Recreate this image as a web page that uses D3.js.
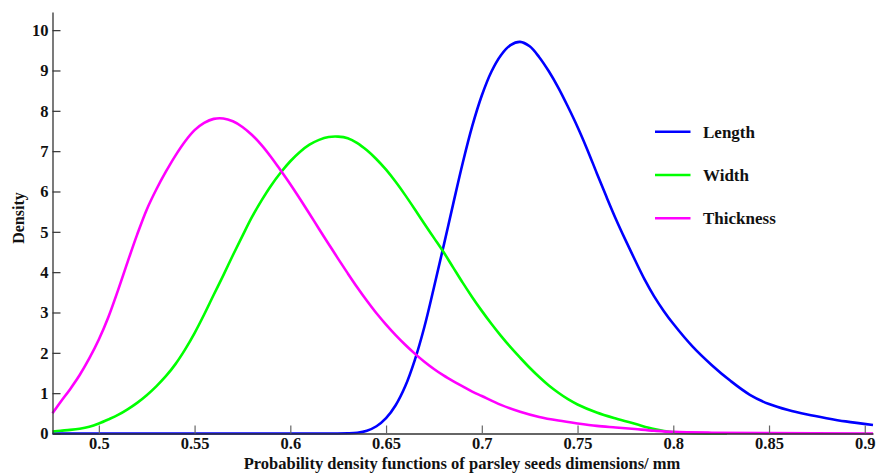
<!DOCTYPE html>
<html>
<head>
<meta charset="utf-8">
<script src="https://cdn.jsdelivr.net/npm/d3@7"></script>
<style>
  body { margin: 0; background: #fff; }
  text { font-family: "Liberation Serif", "Times New Roman", serif; font-weight: bold; fill: #111; }
</style>
</head>
<body>
<div id="chart"></div>
<script>
// values (mm, density)
var lengthX = [0.4758, 0.600, 0.630, 0.635, 0.640, 0.645, 0.650, 0.655, 0.660, 0.665, 0.670, 0.675, 0.680, 0.685, 0.690, 0.695, 0.700, 0.705, 0.710, 0.715, 0.720, 0.725, 0.730, 0.735, 0.740, 0.745, 0.750, 0.755, 0.760, 0.765, 0.770, 0.775, 0.780, 0.785, 0.790, 0.795, 0.800, 0.810, 0.820, 0.830, 0.840, 0.850, 0.860, 0.870, 0.880, 0.890, 0.9043];
var lengthY = [0, 0, 0.005, 0.02, 0.07, 0.18, 0.38, 0.70, 1.17, 1.82, 2.64, 3.62, 4.64, 5.68, 6.70, 7.62, 8.38, 8.97, 9.38, 9.63, 9.71, 9.60, 9.33, 8.98, 8.57, 8.10, 7.60, 7.05, 6.46, 5.88, 5.32, 4.80, 4.30, 3.82, 3.40, 3.04, 2.72, 2.16, 1.70, 1.30, 0.96, 0.73, 0.58, 0.47, 0.38, 0.30, 0.21];

var widthX = [0.4758, 0.480, 0.485, 0.490, 0.495, 0.500, 0.505, 0.510, 0.515, 0.520, 0.525, 0.530, 0.535, 0.540, 0.545, 0.550, 0.555, 0.560, 0.565, 0.570, 0.575, 0.580, 0.585, 0.590, 0.595, 0.600, 0.605, 0.610, 0.615, 0.620, 0.625, 0.630, 0.635, 0.640, 0.645, 0.650, 0.655, 0.660, 0.665, 0.670, 0.675, 0.680, 0.685, 0.690, 0.695, 0.700, 0.705, 0.710, 0.715, 0.720, 0.725, 0.730, 0.735, 0.740, 0.745, 0.750, 0.760, 0.770, 0.780, 0.790, 0.800, 0.810, 0.828];
var widthY = [0.05, 0.07, 0.09, 0.12, 0.17, 0.25, 0.35, 0.46, 0.60, 0.76, 0.95, 1.17, 1.42, 1.72, 2.08, 2.49, 2.95, 3.44, 3.92, 4.42, 4.90, 5.37, 5.78, 6.15, 6.47, 6.75, 6.98, 7.16, 7.28, 7.35, 7.36, 7.32, 7.20, 7.02, 6.80, 6.54, 6.24, 5.91, 5.56, 5.20, 4.85, 4.50, 4.12, 3.74, 3.38, 3.04, 2.72, 2.42, 2.14, 1.88, 1.63, 1.40, 1.19, 1.01, 0.85, 0.72, 0.52, 0.37, 0.24, 0.11, 0.03, 0.01, 0];

var thickX = [0.4758, 0.480, 0.485, 0.490, 0.495, 0.500, 0.505, 0.510, 0.515, 0.520, 0.525, 0.530, 0.535, 0.540, 0.545, 0.550, 0.555, 0.560, 0.565, 0.570, 0.575, 0.580, 0.585, 0.590, 0.595, 0.600, 0.605, 0.610, 0.615, 0.620, 0.625, 0.630, 0.635, 0.640, 0.645, 0.650, 0.655, 0.660, 0.665, 0.670, 0.675, 0.680, 0.685, 0.690, 0.695, 0.700, 0.710, 0.720, 0.730, 0.740, 0.750, 0.760, 0.770, 0.780, 0.790, 0.800, 0.820, 0.850, 0.9043];
var thickY = [0.50, 0.78, 1.10, 1.45, 1.86, 2.33, 2.89, 3.55, 4.25, 4.93, 5.55, 6.05, 6.49, 6.89, 7.24, 7.52, 7.70, 7.80, 7.81, 7.74, 7.60, 7.40, 7.15, 6.85, 6.52, 6.18, 5.82, 5.45, 5.07, 4.70, 4.33, 3.97, 3.62, 3.29, 2.98, 2.70, 2.44, 2.20, 1.98, 1.78, 1.60, 1.44, 1.30, 1.17, 1.04, 0.93, 0.71, 0.54, 0.41, 0.32, 0.25, 0.19, 0.15, 0.11, 0.07, 0.04, 0.02, 0.01, 0];

var seriesNames = ["Length", "Width", "Thickness"];
var seriesColors = ["#0000ff", "#00ff00", "#ff00ff"];
var xTicks = [0.5, 0.55, 0.6, 0.65, 0.7, 0.75, 0.8, 0.85, 0.9];
var yTicks = [0, 1, 2, 3, 4, 5, 6, 7, 8, 9, 10];

var svgWidth = 876, svgHeight = 473;
var margin = {left: 52.5, right: 3, top: 12, bottom: 39.5};

var svg = d3.select("#chart").append("svg")
  .attr("width", svgWidth)
  .attr("height", svgHeight);

var x = d3.scaleLinear().domain([0.4758, 0.9043]).range([margin.left, svgWidth - margin.right]);
var y = d3.scaleLinear().domain([0, 10.45]).range([svgHeight - margin.bottom, margin.top]);

var series = [
  {name: seriesNames[0], color: seriesColors[0], xs: lengthX, ys: lengthY},
  {name: seriesNames[1], color: seriesColors[1], xs: widthX, ys: widthY},
  {name: seriesNames[2], color: seriesColors[2], xs: thickX, ys: thickY}
];

var line = d3.line()
  .x(d => x(d[0]))
  .y(d => y(d[1]))
  .curve(d3.curveCatmullRom.alpha(0.5));

// blue first so green and magenta sit on top along the baseline
series.forEach(function(s) {
  svg.append("path")
    .datum(s.xs.map((v, i) => [v, s.ys[i]]))
    .attr("fill", "none")
    .attr("stroke", s.color)
    .attr("stroke-width", 2.6)
    .attr("stroke-linejoin", "round")
    .attr("d", line);
});

// axes, ticks point inward
var xAxis = svg.append("g")
  .attr("transform", `translate(0, ${y(0)})`)
  .call(d3.axisBottom(x).tickValues(xTicks).tickSizeInner(-8).tickSizeOuter(0).tickPadding(4).tickFormat(d3.format("")));

var yAxis = svg.append("g")
  .attr("transform", `translate(${margin.left}, 0)`)
  .call(d3.axisLeft(y).tickValues(yTicks).tickSizeInner(-8).tickSizeOuter(0).tickPadding(4));

xAxis.select(".domain").attr("stroke", "#333").attr("stroke-width", 1.3);
yAxis.select(".domain").attr("stroke", "#333").attr("stroke-width", 1.3);
xAxis.selectAll(".tick line").attr("stroke", "#666").attr("stroke-width", 1.2);
yAxis.selectAll(".tick line").attr("stroke", "#333").attr("stroke-width", 1.2);
svg.selectAll(".tick text")
  .style("font-size", "16.5px")
  .style("font-family", "'Liberation Serif', serif")
  .style("font-weight", "bold")
  .attr("fill", "#111");

// axis titles
svg.append("text")
  .attr("x", 462)
  .attr("y", 469)
  .attr("text-anchor", "middle")
  .style("font-size", "16.5px")
  .text("Probability density functions of parsley seeds dimensions/ mm");

svg.append("text")
  .attr("transform", "rotate(-90)")
  .attr("x", -218)
  .attr("y", 24)
  .attr("text-anchor", "middle")
  .style("font-size", "16px")
  .text("Density");

// legend
var legend = svg.append("g");
series.forEach(function(s, i) {
  var ly = 131.7 + i * 43.3;
  legend.append("line")
    .attr("x1", 655).attr("x2", 690.5)
    .attr("y1", ly).attr("y2", ly)
    .attr("stroke", s.color)
    .attr("stroke-width", 2.6);
  legend.append("text")
    .attr("x", 703)
    .attr("y", ly)
    .attr("dy", "0.35em")
    .style("font-size", "17px")
    .text(s.name);
});
</script>
</body>
</html>
